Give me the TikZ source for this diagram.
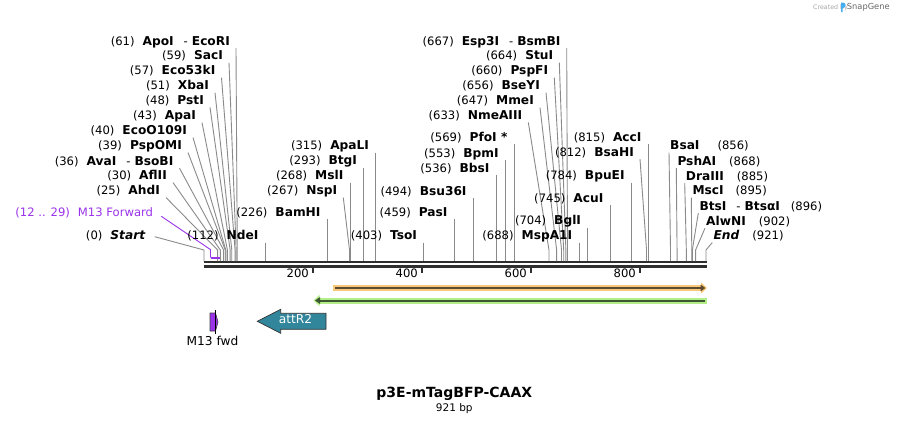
\documentclass[tikz,border=0pt]{standalone}
\usepackage{fontspec}
\setmainfont{DejaVu Sans}
\usetikzlibrary{arrows.meta}
\definecolor{cutgray}{HTML}{8A8A8A}
\definecolor{bbcol}{HTML}{2E2E2E}
\definecolor{m13purple}{HTML}{9B33EA}
\definecolor{orglow}{HTML}{F8C879}
\definecolor{orline}{HTML}{5E4A30}
\definecolor{grglow}{HTML}{B3EE88}
\definecolor{grline}{HTML}{3E5733}
\definecolor{attteal}{HTML}{31869B}
\definecolor{snapblue}{HTML}{45AEF0}
\newcommand\g{\hspace{8pt}}
\newcommand\nm[1]{\textbf{\fontsize{12.2}{13}\selectfont #1}}
\newcommand\dsh{\hspace{10pt}-\hspace{4pt}}
% vertical cut line: name, text, y, bp
\newcommand\cutV[4]{%
  \coordinate (#1s) at ({204+0.545*#4},261);
  \node[lbl,anchor=east] (#1) at ({204+0.545*#4-6.5},#3) {#2};
  \draw[cutline] (#1s |- #1.south) -- (#1s);
}
% slanted cut line, label left: name, text, endx, y, bp
\newcommand\cutS[5]{%
  \coordinate (#1s) at ({204+0.545*#5},261);
  \node[lbl,anchor=east] (#1) at (#3,#4) {#2};
  \draw[cutline] ([xshift=6pt]#1.south east) -- ([yshift=11pt]#1s) -- (#1s);
}
% slanted cut line, label right: name, text, startx, y, bp
\newcommand\cutR[5]{%
  \coordinate (#1s) at ({204+0.545*#5},261);
  \node[lbl,anchor=west] (#1) at (#3,#4) {#2};
  \draw[cutline] ([xshift=-1pt]#1.south west) -- ([yshift=11pt]#1s) -- (#1s);
}
\begin{document}
\begin{tikzpicture}[x=1pt,y=-1pt,
  lbl/.style={inner sep=0pt, font=\fontsize{11.6}{13}\selectfont, text height=8.8pt, text depth=2.5pt},
  cutline/.style={draw=cutgray, line width=0.9pt}]
\useasboundingbox[fill=white] (0,0) rectangle (910,424);

% backbone
\coordinate (bbL1) at (203.5,261.8);
\coordinate (bbR1) at (706.5,261.8);
\coordinate (bbL2) at (203.5,266.3);
\coordinate (bbR2) at (706.5,266.3);
\draw[bbcol, line width=2pt] (bbL1) -- (bbR1);
\draw[bbcol, line width=3pt] (bbL2) -- (bbR2);
\foreach \v in {200,400,600,800}{
  \draw[bbcol, line width=2pt] ({204+0.545*\v},267) -- ++(0,5.5);
  \node[lbl,anchor=east] (t\v) at ({204+0.545*\v-4},274.5) {\v};
}

% left cluster
\cutS{c61}{(61)\g\nm{ApoI}\dsh\nm{EcoRI}}{230}{42.3}{61}
\cutS{c59}{(59)\g\nm{SacI}}{223}{56.7}{59}
\cutS{c57}{(57)\g\nm{Eco53kI}}{215.5}{71.7}{57}
\cutS{c51}{(51)\g\nm{XbaI}}{209}{86.7}{51}
\cutS{c48}{(48)\g\nm{PstI}}{204}{101.5}{48}
\cutS{c43}{(43)\g\nm{ApaI}}{196}{116.7}{43}
\cutS{c40}{(40)\g\nm{EcoO109I}}{187}{131.7}{40}
\cutS{c39}{(39)\g\nm{PspOMI}}{182}{146.7}{39}
\cutS{c36}{(36)\g\nm{AvaI}\dsh\nm{BsoBI}}{173.5}{162.3}{36}
\cutS{c30}{(30)\g\nm{AflII}}{167}{176.7}{30}
\cutS{c25}{(25)\g\nm{AhdI}}{160}{191.7}{25}

% M13 Forward primer
\node[lbl,anchor=east,text=m13purple] (m13lbl) at (153.3,213.3) {(12 .. 29)\g M13 Forward};
\coordinate (m13a) at (210.5,257.6);
\coordinate (m13b) at (219.8,257.6);
\draw[m13purple, line width=0.9pt] ([xshift=8pt,yshift=-3pt]m13lbl.east) -- ([yshift=8pt]m13a) -- (m13a);
\draw[m13purple, line width=2pt] (m13a) -- (m13b);

% Start
\node[lbl,anchor=east] (startlbl) at (145.7,236.7) {(0)\g\textbf{\textit{\fontsize{12.2}{13}\selectfont Start}}};
\coordinate (s0) at (204,261);
\draw[cutline] ([xshift=9pt]startlbl.east) -- ([yshift=11pt]s0) -- (s0);

% middle
\cutV{c112}{(112)\g\nm{NdeI}}{236.7}{112}
\cutV{c226}{(226)\g\nm{BamHI}}{213.3}{226}
\cutS{c267}{(267)\g\nm{NspI}}{337.3}{191.7}{267}
\cutV{c268}{(268)\g\nm{MslI}}{176.7}{268}
\cutV{c293}{(293)\g\nm{BtgI}}{161.7}{293}
\cutV{c315}{(315)\g\nm{ApaLI}}{146.7}{315}
\cutV{c403}{(403)\g\nm{TsoI}}{236.7}{403}
\cutV{c459}{(459)\g\nm{PasI}}{213.3}{459}
\cutV{c494}{(494)\g\nm{Bsu36I}}{192.3}{494}
\cutV{c536}{(536)\g\nm{BbsI}}{169}{536}
\cutV{c553}{(553)\g\nm{BpmI}}{154}{553}
\cutV{c569}{(569)\g\nm{PfoI *}}{138.3}{569}

% upper middle cluster
\cutS{c667}{(667)\g\nm{Esp3I}\dsh\nm{BsmBI}}{560.7}{42.3}{667}
\cutS{c664}{(664)\g\nm{StuI}}{553.3}{56.7}{664}
\cutS{c660}{(660)\g\nm{PspFI}}{548.3}{71.7}{660}
\cutS{c656}{(656)\g\nm{BseYI}}{540}{86.7}{656}
\cutS{c647}{(647)\g\nm{MmeI}}{534}{101.7}{647}
\cutS{c633}{(633)\g\nm{NmeAIII}}{522.3}{116.5}{633}

% right middle
\cutV{c688}{(688)\g\nm{MspA1I}}{236.7}{688}
\cutV{c704}{(704)\g\nm{BglI}}{221.7}{704}
\cutV{c745}{(745)\g\nm{AcuI}}{199}{745}
\cutV{c784}{(784)\g\nm{BpuEI}}{176.7}{784}
\cutS{c812}{(812)\g\nm{BsaHI}}{634}{153.3}{812}
\cutV{c815}{(815)\g\nm{AccI}}{138.3}{815}

% right cluster
\cutR{c856}{\nm{BsaI}\hspace{18pt}(856)}{670}{146.7}{856}
\cutR{c868}{\nm{PshAI}\hspace{13pt}(868)}{677.3}{162.3}{868}
\cutR{c885}{\nm{DraIII}\hspace{13pt}(885)}{685.7}{177.3}{885}
\cutR{c895}{\nm{MscI}\hspace{12pt}(895)}{692.3}{191.7}{895}
\cutR{c896}{\nm{BtsI}\dsh\nm{BtsαI}\hspace{11pt}(896)}{699.3}{207.3}{896}
\cutR{c902}{\nm{AlwNI}\hspace{13pt}(902)}{706}{222.3}{902}
\cutR{c921}{\textbf{\textit{\fontsize{12.2}{13}\selectfont End}}\hspace{13pt}(921)}{713.3}{236.7}{921}

% orange feature (forward)
\coordinate (oS) at (333,288);
\coordinate (oE) at (707,288);
\draw[orglow, line width=6pt, -{Triangle[length=6pt,width=11pt]}] (oS) -- (oE);
\draw[orline, line width=2pt, -{Triangle[length=5pt,width=6.5pt]}] ([xshift=2pt]oS) -- ([xshift=-1.5pt]oE);

% green feature (reverse)
\coordinate (gS) at (707,300.5);
\coordinate (gE) at (313.5,300.5);
\draw[grglow, line width=6pt, -{Triangle[length=6pt,width=11pt]}] (gS) -- (gE);
\draw[grline, line width=2pt, -{Triangle[length=5pt,width=6.5pt]}] ([xshift=-2pt]gS) -- ([xshift=1.5pt]gE);

% M13 fwd feature
\draw[fill=m13purple, draw=black!75, line width=0.6pt] (210,313) -- (215.5,313) -- (218,322) -- (215.5,331) -- (210,331) -- cycle;
\draw[black, line width=0.8pt] (215.5,309.5) -- (215.5,334);
\node[lbl, font=\fontsize{12.2}{13}\selectfont] (m13fwd) at (212.5,342.5) {M13 fwd};

% attR2 feature
\draw[fill=attteal, draw=black!80, line width=0.7pt] (257.3,321.3) -- (280.7,309.3) -- (280.7,313.3) -- (326,313.3) -- (326,329.3) -- (280.7,329.3) -- (280.7,333.3) -- cycle;
\node[lbl, text=white, font=\fontsize{12.2}{13}\selectfont] (attr2) at (295.5,320.8) {attR2};

% title
\node[inner sep=0pt, font=\bfseries\fontsize{14}{16}\selectfont] (title) at (454.3,393.5) {p3E-mTagBFP-CAAX};
\node[inner sep=0pt, font=\fontsize{10.5}{12}\selectfont] (size) at (454.3,408.5) {921 bp};

% watermark
\node[inner sep=0pt, anchor=west, font=\fontsize{6.3}{7}\selectfont, text=black!35] (cb) at (813,7.3) {Created by};
\fill[snapblue] (841,12) -- (841,2.5) -- (843,2.5) .. controls (846.5,2.5) and (846.5,8) .. (843,8) -- (842.6,8) -- (842.6,12) -- cycle;
\node[inner sep=0pt, anchor=west, font=\fontsize{8.3}{9}\selectfont, text=black!60] (sg) at (846.7,7.3) {SnapGene};
\end{tikzpicture}
\end{document}
